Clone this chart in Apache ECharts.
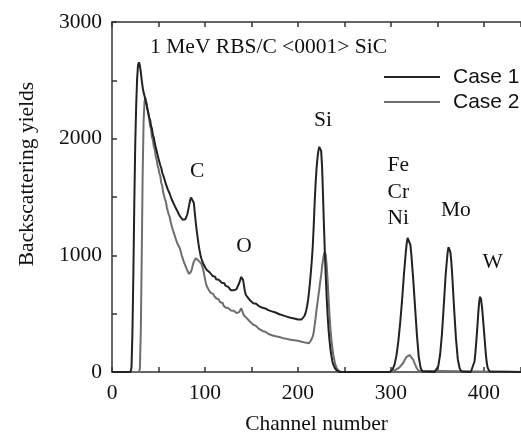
<!DOCTYPE html>
<html>
<head>
<meta charset="utf-8">
<script src="https://cdn.jsdelivr.net/npm/echarts@6/dist/echarts.min.js"></script>
<style>
html,body{margin:0;padding:0;background:#fff;}
#chart{width:521px;height:436px;}
</style>
</head>
<body>
<div id="chart"></div>
<script>
// Case 1: [channel, yield]
var case1 = [[0,0],[20,0],[21,40],[22,350],[23,850],[24,1450],[25,1950],[26,2280],[27,2510],[28,2630],[29,2655],[30,2625],[31,2570],[32,2500],[33,2440],[34,2395],[35,2365],[36,2330],[37,2300],[38,2255],[39,2225],[40,2180],[41,2160],[42,2110],[43,2085],[44,2030],[45,2010],[46,1960],[47,1945],[48,1895],[49,1880],[50,1830],[51,1815],[52,1770],[53,1750],[54,1710],[55,1700],[56,1665],[57,1650],[58,1610],[59,1600],[60,1565],[61,1555],[62,1530],[63,1520],[64,1485],[65,1475],[66,1450],[67,1440],[68,1415],[69,1400],[70,1385],[71,1370],[72,1350],[73,1345],[74,1325],[75,1330],[76,1305],[77,1300],[78,1295],[79,1310],[80,1320],[81,1350],[82,1390],[83,1430],[84,1470],[85,1495],[86,1505],[87,1490],[88,1450],[89,1370],[90,1290],[91,1220],[92,1160],[93,1100],[94,1050],[95,1010],[96,975],[97,955],[98,930],[99,920],[100,900],[101,895],[102,875],[103,880],[104,860],[105,855],[106,840],[107,845],[108,825],[109,820],[110,810],[111,815],[112,795],[113,800],[114,785],[115,790],[116,775],[117,780],[118,765],[119,770],[120,755],[121,760],[122,740],[123,745],[124,725],[125,730],[126,715],[127,720],[128,700],[129,705],[130,690],[131,700],[132,705],[133,700],[134,710],[135,730],[136,745],[137,765],[138,790],[139,815],[140,820],[141,790],[142,740],[143,690],[144,660],[145,645],[146,640],[147,625],[148,630],[149,610],[150,605],[152,590],[153,595],[154,580],[155,585],[156,575],[157,570],[158,565],[159,570],[160,555],[162,550],[163,555],[164,540],[165,545],[166,535],[168,530],[169,535],[170,525],[172,520],[173,525],[174,510],[176,510],[177,505],[178,500],[180,495],[181,500],[182,490],[184,485],[185,490],[186,480],[188,475],[189,480],[190,470],[192,465],[193,470],[194,460],[196,458],[198,452],[200,450],[202,446],[204,450],[206,465],[207,480],[208,500],[209,530],[210,570],[211,620],[212,690],[213,770],[214,860],[215,960],[216,1080],[217,1250],[218,1450],[219,1610],[220,1740],[221,1830],[222,1895],[223,1930],[224,1935],[225,1895],[226,1760],[227,1520],[228,1260],[229,1020],[230,810],[231,630],[232,480],[233,360],[234,270],[235,195],[236,140],[237,95],[238,65],[240,30],[242,12],[245,0],[299,0],[300,5],[302,25],[304,65],[306,140],[308,260],[310,420],[312,610],[314,830],[316,1020],[317,1100],[318,1150],[319,1160],[320,1140],[321,1090],[322,1010],[324,800],[326,560],[328,320],[330,130],[332,35],[334,5],[336,0],[347,0],[349,10],[351,50],[353,150],[355,330],[357,580],[359,840],[361,1020],[362,1070],[363,1075],[364,1030],[365,950],[366,830],[368,550],[370,290],[372,110],[374,30],[376,5],[378,0],[386,0],[388,15],[390,90],[391,170],[392,270],[393,380],[394,500],[395,600],[396,645],[397,625],[398,560],[399,470],[400,370],[401,270],[402,170],[403,90],[404,40],[406,5],[408,0],[440,0]];

// Case 2: [channel, yield]
var case2 = [[0,0],[29,0],[30,30],[31,350],[32,1000],[33,1700],[34,2150],[35,2320],[36,2350],[37,2310],[38,2265],[39,2215],[40,2170],[41,2110],[42,2080],[43,2010],[44,1990],[45,1930],[46,1910],[47,1850],[48,1820],[49,1770],[50,1745],[51,1700],[52,1680],[53,1620],[54,1600],[55,1540],[56,1525],[57,1480],[58,1460],[59,1410],[60,1395],[61,1350],[62,1330],[63,1290],[64,1275],[65,1230],[66,1220],[67,1180],[68,1170],[69,1130],[70,1125],[71,1090],[72,1080],[73,1060],[74,1030],[75,1000],[76,990],[77,950],[78,955],[79,910],[80,900],[81,870],[82,865],[83,840],[84,830],[85,860],[86,885],[87,920],[88,945],[89,930],[90,975],[91,990],[92,965],[93,955],[94,945],[95,950],[96,930],[97,920],[98,885],[99,840],[100,800],[101,760],[102,735],[103,720],[104,705],[105,700],[106,680],[107,685],[108,665],[109,668],[110,650],[111,655],[112,632],[113,640],[114,615],[115,620],[116,600],[117,605],[118,585],[119,592],[120,570],[121,575],[122,552],[123,558],[124,545],[125,548],[126,535],[127,540],[128,528],[129,532],[130,520],[131,525],[132,512],[133,518],[134,505],[135,510],[136,505],[137,515],[138,530],[139,546],[140,535],[141,505],[142,485],[143,475],[144,470],[145,462],[146,455],[147,445],[148,435],[149,430],[150,420],[152,405],[153,410],[154,392],[155,395],[156,380],[157,382],[158,370],[159,372],[160,360],[162,352],[163,355],[164,342],[165,345],[166,335],[168,328],[169,330],[170,320],[172,315],[173,318],[174,310],[176,306],[177,308],[178,302],[180,300],[181,302],[182,295],[184,290],[185,292],[186,286],[188,284],[189,286],[190,280],[192,276],[193,278],[194,274],[196,272],[198,270],[200,267],[202,264],[204,260],[206,256],[208,252],[210,248],[212,246],[213,255],[214,270],[215,285],[216,305],[217,340],[218,400],[219,460],[220,530],[221,590],[222,650],[223,710],[224,775],[225,830],[226,900],[227,960],[228,1010],[229,1030],[230,1000],[231,910],[232,780],[233,630],[234,490],[235,370],[236,280],[237,210],[238,150],[240,70],[242,30],[244,10],[247,0],[301,0],[303,8],[305,18],[307,28],[309,38],[311,50],[313,75],[315,105],[317,130],[319,145],[320,146],[321,142],[322,135],[324,105],[326,65],[328,30],[330,10],[332,0],[440,0]];

var seriesNames = ['Case 1', 'Case 2'];
// annotations: [channel, yield, text]
var annotations = [[41, 2785, '1 MeV RBS/C <0001> SiC'],[91.5, 1722, 'C'],[142, 1080, 'O'],[227, 2160, 'Si'],[308, 1774, 'Fe'],[308, 1542, 'Cr'],[308, 1320, 'Ni'],[370, 1388, 'Mo'],[409.5, 943, 'W']];
var xTickLabels = [0, 100, 200, 300, 400];
var yTickLabels = [0, 1000, 2000, 3000];

var serif = '"Liberation Serif", "Times New Roman", serif';
var sans = '"Liberation Sans", Arial, sans-serif';
var axisColor = '#333';
var textColor = '#111';
var fs = 21.5;

var chart = echarts.init(document.getElementById('chart'), null, {renderer: 'canvas'});
chart.setOption({
  animation: false,
  backgroundColor: '#fff',
  grid: {left: 112, right: 0, top: 22, bottom: 64, containLabel: false, outerBoundsMode: 'none'},
  legend: {
    data: seriesNames,
    orient: 'vertical',
    left: 384, top: 66, padding: 0,
    icon: 'rect', itemWidth: 56, itemHeight: 2, itemGap: 3,
    textStyle: {fontFamily: sans, fontSize: 21, color: textColor, lineHeight: 22, padding: [0,0,0,8]}
  },
  xAxis: [{
    type: 'value', min: 0, max: 440, interval: 50,
    name: 'Channel number', nameLocation: 'middle', nameGap: 41,
    nameTextStyle: {fontFamily: serif, fontSize: fs, color: textColor},
    axisLine: {lineStyle: {color: axisColor, width: 1.5}},
    axisTick: {inside: true, length: 5, lineStyle: {color: axisColor, width: 1.5}},
    axisLabel: {margin: 10, fontFamily: serif, fontSize: fs, color: textColor,
      formatter: function (v) { return xTickLabels.indexOf(v) >= 0 ? String(v) : ''; }},
    splitLine: {show: false}
  }, {
    type: 'value', position: 'top', min: 0, max: 440, interval: 50,
    axisLine: {show: true, lineStyle: {color: axisColor, width: 1.5}},
    axisTick: {show: true, inside: true, length: 5, lineStyle: {color: axisColor, width: 1.5}},
    axisLabel: {show: false}, splitLine: {show: false}
  }],
  yAxis: {
    type: 'value', min: 0, max: 3000, interval: 500,
    name: 'Backscattering yields', nameLocation: 'middle', nameGap: 74, nameRotate: 90,
    nameTextStyle: {fontFamily: serif, fontSize: fs, color: textColor, padding: [0,0,0,46]},
    axisLine: {show: true, lineStyle: {color: axisColor, width: 1.5}},
    axisTick: {show: true, inside: true, length: 5, lineStyle: {color: axisColor, width: 1.5}},
    axisLabel: {margin: 10, fontFamily: serif, fontSize: fs, color: textColor,
      formatter: function (v) { return yTickLabels.indexOf(v) >= 0 ? String(v) : ''; }},
    splitLine: {show: false}
  },
  series: [{
    name: seriesNames[1], type: 'line', data: case2, showSymbol: false, smooth: false,
    lineStyle: {color: '#6e6e6e', width: 2}, itemStyle: {color: '#6e6e6e'}, z: 2
  }, {
    name: seriesNames[0], type: 'line', data: case1, showSymbol: false, smooth: false,
    lineStyle: {color: '#222', width: 2}, itemStyle: {color: '#222'}, z: 3
  }, {
    name: 'labels', type: 'scatter', symbolSize: 1, silent: true, z: 5,
    itemStyle: {opacity: 0},
    data: annotations.map(function (a, i) {
      return {value: [a[0], a[1]], name: a[2],
        label: {show: true, position: 'inside', formatter: a[2], opacity: 1,
          align: i === 0 ? 'left' : 'center', verticalAlign: 'middle',
          fontFamily: serif, fontSize: fs, color: textColor}};
    })
  }]
});
</script>
</body>
</html>
